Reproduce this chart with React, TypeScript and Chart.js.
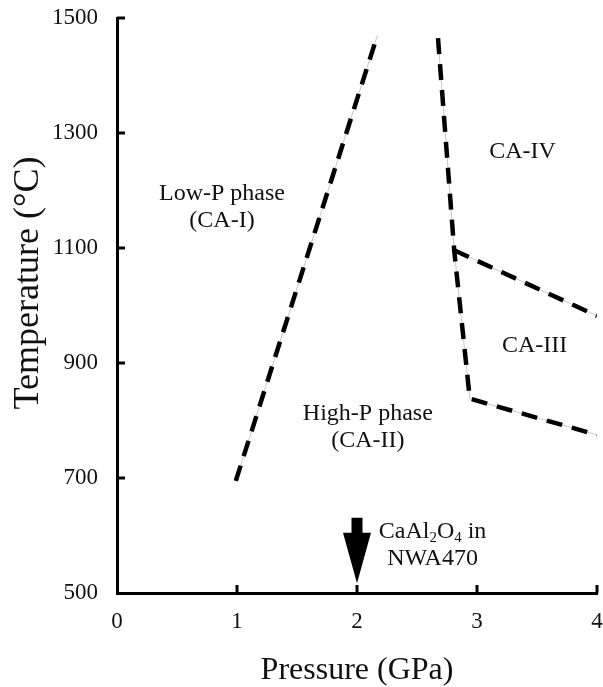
import { useEffect, useRef } from "react";
import { Chart, registerables } from "chart.js";

Chart.register(...registerables);

// ---- data ----
const pressureTicks = [0, 1, 2, 3, 4];
const temperatureTicks = [500, 700, 900, 1100, 1300, 1500];

// Low-P / High-P boundary
const lowHighP = [0.99, 2.17];
const lowHighT = [695, 1470];
// High-P / CA-IV / CA-III boundary
const boundaryP = [2.675, 2.81, 2.94, 4.0];
const boundaryT = [1465, 1096, 838, 775];
// CA-IV / CA-III boundary
const ca34P = [2.81, 4.0];
const ca34T = [1096, 982];

// arrow marking CaAl2O4 in NWA470
const arrowP = 2;
const arrowTopT = 631;
const arrowHeadT = 605;
const arrowTipT = 517;

// phase labels ("_x" = subscript)
const phaseLines = [
  ["Low-P phase", "(CA-I)"],
  ["CA-IV"],
  ["CA-III"],
  ["High-P phase", "(CA-II)"],
  ["CaAl_2O_4 in", "NWA470"],
];
const phaseP = [0.875, 3.38, 3.48, 2.09, 2.63];
const phaseT = [1195, 1267, 930, 812, 606];

const FONT = "'Liberation Serif', 'Times New Roman', serif";

function pts(P: number[], T: number[]) {
  return P.map((p, i) => ({ x: p, y: T[i] }));
}

function parseSegs(s: string) {
  const segs: { t: string; sub: boolean }[] = [];
  let buf = "";
  for (let i = 0; i < s.length; i++) {
    if (s[i] === "_" && i + 1 < s.length) {
      if (buf) segs.push({ t: buf, sub: false });
      buf = "";
      segs.push({ t: s[i + 1], sub: true });
      i++;
    } else buf += s[i];
  }
  if (buf) segs.push({ t: buf, sub: false });
  return segs;
}

const overlay = {
  id: "overlay",
  afterDraw(chart: any) {
    const { ctx, chartArea } = chart;
    const x = chart.scales.x;
    const y = chart.scales.y;
    ctx.save();
    // inward tick marks
    ctx.strokeStyle = "#000";
    ctx.lineWidth = 3;
    ctx.lineCap = "butt";
    x.ticks.forEach((t: any) => {
      if (t.value === x.min) return;
      const px = x.getPixelForValue(t.value);
      ctx.beginPath();
      ctx.moveTo(px, chartArea.bottom);
      ctx.lineTo(px, chartArea.bottom - 8);
      ctx.stroke();
    });
    y.ticks.forEach((t: any) => {
      if (t.value === y.min) return;
      const py = y.getPixelForValue(t.value);
      ctx.beginPath();
      ctx.moveTo(chartArea.left, py);
      ctx.lineTo(chartArea.left + 8, py);
      ctx.stroke();
    });
    // arrow
    const ax = x.getPixelForValue(arrowP);
    const top = y.getPixelForValue(arrowTopT);
    const head = y.getPixelForValue(arrowHeadT);
    const tip = y.getPixelForValue(arrowTipT);
    ctx.fillStyle = "#000";
    ctx.beginPath();
    ctx.moveTo(ax - 5.5, top);
    ctx.lineTo(ax + 5.5, top);
    ctx.lineTo(ax + 5.5, head);
    ctx.lineTo(ax + 14, head);
    ctx.lineTo(ax, tip);
    ctx.lineTo(ax - 14, head);
    ctx.lineTo(ax - 5.5, head);
    ctx.closePath();
    ctx.fill();
    // labels
    const size = 24;
    const lineGap = 27;
    ctx.fillStyle = "#111";
    ctx.textBaseline = "middle";
    ctx.textAlign = "left";
    phaseLines.forEach((lines, k) => {
      const cx = x.getPixelForValue(phaseP[k]);
      const cy0 = y.getPixelForValue(phaseT[k]);
      lines.forEach((line, j) => {
        const segs = parseSegs(line);
        let w = 0;
        segs.forEach((s) => {
          ctx.font = `${s.sub ? size * 0.62 : size}px ${FONT}`;
          w += ctx.measureText(s.t).width;
        });
        let px = cx - w / 2;
        const py = cy0 + j * lineGap;
        segs.forEach((s) => {
          ctx.font = `${s.sub ? size * 0.62 : size}px ${FONT}`;
          ctx.fillText(s.t, px, s.sub ? py + 6 : py);
          px += ctx.measureText(s.t).width;
        });
      });
    });
    ctx.restore();
  },
};

export default function App() {
  const ref = useRef<HTMLCanvasElement | null>(null);
  useEffect(() => {
    if (!ref.current) return;
    const lines = [
      pts(lowHighP, lowHighT),
      pts(boundaryP, boundaryT),
      pts(ca34P, ca34T),
    ];
    const datasets: any[] = [];
    lines.forEach((d) => {
      datasets.push({
        data: d,
        showLine: true,
        borderColor: "#000",
        borderWidth: 4.5,
        borderDash: [16, 10],
        borderCapStyle: "butt",
        pointRadius: 0,
        order: 1,
      });
      datasets.push({
        data: d,
        showLine: true,
        borderColor: "#c8c8c8",
        borderWidth: 1,
        pointRadius: 0,
        order: 2,
      });
    });
    const chart = new Chart(ref.current, {
      type: "scatter",
      data: { datasets },
      plugins: [overlay],
      options: {
        animation: false,
        responsive: true,
        maintainAspectRatio: false,
        layout: { padding: { top: 18, right: 6, left: 0, bottom: 0 } },
        plugins: { legend: { display: false }, tooltip: { enabled: false } },
        scales: {
          x: {
            type: "linear",
            min: 0,
            max: 4,
            afterFit: (s: any) => {
              s.height = 94;
              s.paddingLeft = 0;
              s.paddingRight = 0;
            },
            afterBuildTicks: (s: any) => {
              s.ticks = pressureTicks.map((v) => ({ value: v }));
            },
            grid: { display: false, drawTicks: false },
            border: { display: true, color: "#000", width: 3 },
            ticks: {
              color: "#111",
              padding: 15,
              font: { family: FONT, size: 23 },
              maxRotation: 0,
              callback: (v: any) => String(v),
            },
            title: {
              display: true,
              text: "Pressure (GPa)",
              color: "#111",
              font: { family: FONT, size: 32, lineHeight: 1 },
              padding: { top: 0, bottom: 0 },
            },
          },
          y: {
            type: "linear",
            min: 500,
            max: 1500,
            afterFit: (s: any) => {
              s.width = 117;
              s.paddingTop = 0;
              s.paddingBottom = 0;
            },
            afterBuildTicks: (s: any) => {
              s.ticks = temperatureTicks.map((v) => ({ value: v }));
            },
            grid: { display: false, drawTicks: false },
            border: { display: true, color: "#000", width: 3 },
            ticks: {
              color: "#111",
              padding: 19,
              font: { family: FONT, size: 23 },
              callback: (v: any) => String(v),
            },
            title: {
              display: true,
              text: "     Temperature (°C)",
              color: "#111",
              font: { family: FONT, size: 36, lineHeight: 1 },
              padding: { top: 11, bottom: 0 },
            },
          },
        },
      },
    });
    return () => chart.destroy();
  }, []);
  return (
    <div style={{ position: "absolute", left: 0, top: 0, width: 603, height: 687, background: "#fff" }}>
      <canvas ref={ref} />
    </div>
  );
}
